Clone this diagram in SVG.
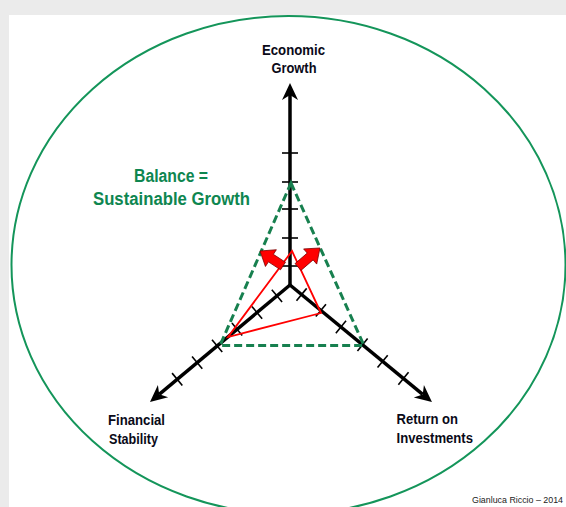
<svg xmlns="http://www.w3.org/2000/svg" width="566" height="507" viewBox="0 0 566 507">
<style>
.lbl{font-family:"Liberation Sans",Arial,sans-serif;font-weight:bold;font-size:14px;fill:#0a0a18}
.bal{font-family:"Liberation Sans",Arial,sans-serif;font-weight:bold;font-size:17.5px;fill:#0e8650;text-anchor:middle}
.axis{stroke:#000;stroke-width:3.5;fill:none}
.tick{stroke:#000;stroke-width:1.6}
.goal{fill:none;stroke:#17804f;stroke-width:3;stroke-dasharray:8 4}
.now{fill:none;stroke:#ff0000;stroke-width:1.8;stroke-linejoin:miter}
.push{fill:#ff0000;stroke:#7a0000;stroke-width:0.8}
</style>
<defs>
<marker id="head" markerUnits="userSpaceOnUse" markerWidth="20" markerHeight="18" refX="5" refY="8" orient="auto" overflow="visible">
<path d="M0,0 L17,8 L0,16 L5,8 Z" fill="#000"/>
</marker>
</defs>
<rect x="0" y="0" width="566" height="507" fill="#ebebeb"/>
<rect x="9" y="15" width="557" height="492" fill="#ffffff"/>
<ellipse cx="288.5" cy="265" rx="277" ry="249" fill="none" stroke="#14955a" stroke-width="2"/>

<g id="connectors">
<line class="axis" x1="290" y1="285" x2="290" y2="95" marker-end="url(#head)"/>
<line class="axis" x1="290" y1="285" x2="159.2" y2="394.3" marker-end="url(#head)"/>
<line class="axis" x1="290" y1="285" x2="422.7" y2="394.4" marker-end="url(#head)"/>
<g id="ticks">
<line class="tick" x1="282" y1="266" x2="298" y2="266"/>
<line class="tick" x1="282" y1="238" x2="298" y2="238"/>
<line class="tick" x1="282" y1="209" x2="298" y2="209"/>
<line class="tick" x1="282" y1="182" x2="298" y2="182"/>
<line class="tick" x1="282" y1="153" x2="298" y2="153"/>
<line class="tick" x1="271.83" y1="289.76" x2="282.09" y2="302.04"/>
<line class="tick" x1="251.88" y1="306.44" x2="262.14" y2="318.72"/>
<line class="tick" x1="231.93" y1="323.11" x2="242.19" y2="335.39"/>
<line class="tick" x1="211.98" y1="339.78" x2="222.24" y2="352.06"/>
<line class="tick" x1="192.03" y1="356.46" x2="202.29" y2="368.74"/>
<line class="tick" x1="172.08" y1="373.13" x2="182.34" y2="385.41"/>
<line class="tick" x1="306.67" y1="288.37" x2="296.49" y2="300.71"/>
<line class="tick" x1="325.96" y1="304.27" x2="315.78" y2="316.61"/>
<line class="tick" x1="346.03" y1="320.80" x2="335.85" y2="333.14"/>
<line class="tick" x1="367.64" y1="338.60" x2="357.46" y2="350.94"/>
<line class="tick" x1="387.71" y1="355.14" x2="377.53" y2="367.48"/>
<line class="tick" x1="408.54" y1="372.31" x2="398.36" y2="384.65"/>
</g>
<polygon id="target-balance" class="goal" points="291,183 364,345.5 220,345.5"/>
<polygon id="current-state" class="now" points="292,251 321,313 228,337"/>
<g id="push-arrows">
<polygon class="push" points="285.46,262.23 273.35,254.33 276.35,249.72 260,251 265.43,266.48 268.43,261.87 280.54,269.77"/>
<polygon class="push" points="300.94,270.41 313.10,259.91 316.70,264.07 320,248 303.62,248.93 307.22,253.09 295.06,263.59"/>
</g>
</g>

<g id="node-economic-growth">
<text class="lbl" x="293.5" y="55" text-anchor="middle" textLength="63" lengthAdjust="spacingAndGlyphs">Economic</text>
<text class="lbl" x="294" y="73" text-anchor="middle" textLength="45" lengthAdjust="spacingAndGlyphs">Growth</text>
</g>
<g id="node-financial-stability">
<text class="lbl" x="108" y="425" textLength="57" lengthAdjust="spacingAndGlyphs">Financial</text>
<text class="lbl" x="109" y="444" textLength="49" lengthAdjust="spacingAndGlyphs">Stability</text>
</g>
<g id="node-return-on-investments">
<text class="lbl" x="396.5" y="424" textLength="61.5" lengthAdjust="spacingAndGlyphs">Return on</text>
<text class="lbl" x="396.5" y="443" textLength="76.5" lengthAdjust="spacingAndGlyphs">Investments</text>
</g>
<g id="node-balance">
<text class="bal" x="171" y="182" textLength="74" lengthAdjust="spacingAndGlyphs">Balance =</text>
<text class="bal" x="171.5" y="205" textLength="157" lengthAdjust="spacingAndGlyphs">Sustainable Growth</text>
</g>
<text x="472" y="503" font-family="'Liberation Sans',Arial,sans-serif" font-size="9" fill="#222" textLength="91" lengthAdjust="spacingAndGlyphs">Gianluca Riccio – 2014</text>
</svg>
